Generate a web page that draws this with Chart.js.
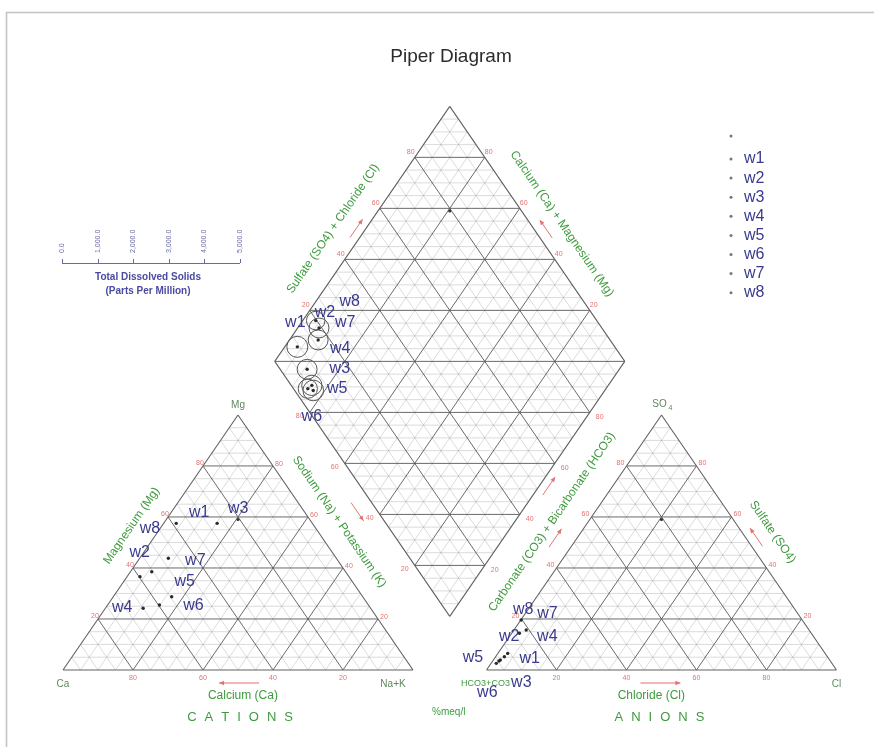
<!DOCTYPE html>
<html>
<head>
<meta charset="utf-8">
<title>Piper Diagram</title>
<script src="https://cdn.jsdelivr.net/npm/chart.js@4.4.1/dist/chart.umd.min.js"></script>
<style>
  html, body { margin: 0; padding: 0; background: #ffffff; }
  #piper { display: block; }
</style>
</head>
<body>
<canvas id="piper" width="874" height="747"></canvas>
<script>
// ---- Sample chemistry, % meq/l ----
const wells = ['w1', 'w2', 'w3', 'w4', 'w5', 'w6', 'w7', 'w8'];
const calcium         = [38.9, 55.4, 27.2, 65.0, 54.6, 59.7, 48.0, 59.7];
const magnesium       = [57.5, 38.5, 57.5, 24.2, 28.7, 25.5, 43.8, 36.6];
const sodiumPotassium = [ 3.6,  6.1, 15.3, 10.8, 16.7, 14.8,  8.2,  3.7];
const bicarbonate     = [90.7, 80.8, 94.1, 92.3, 94.7, 95.9, 83.4, 80.3];
const sulfate         = [ 6.5, 15.7,  3.9,  5.2,  3.5,  2.6, 14.4, 19.6];
const chloride        = [ 2.8,  3.5,  2.0,  2.5,  1.8,  1.5,  2.2,  0.1];
const totalDissolvedSolids = [590, 560, 570, 560, 580, 540, 560, 520];

// Unlabelled reference sample (first legend entry)
const referenceCations = [20.5, 59.0, 20.5];   // Ca, Mg, Na+K
const referenceAnions  = [20.5, 59.0, 20.5];   // HCO3+CO3, SO4, Cl

// Tick values
const percentTicks = [20, 40, 60, 80];
const tdsTicks = [0, 1000, 2000, 3000, 4000, 5000];

// ---- Label placement (pixel offsets from each plotted point) ----
const cationLabelOffset  = [[23,-11],[-12,-19],[21,-15],[-21,-1],[13,-15],[34,1],[27,2],[10,-48]];
const diamondLabelOffset = [[-2,-24],[6,-15],[28,-17],[33,-21],[24,-2],[4,28],[27,-17],[34,-19]];
const anionLabelOffset   = [[22,5],[-17,7],[21,23],[43,-20],[-26,-3],[-9,29],[28,-20],[2,-10]];

// ---- Piper geometry (triangle side = 100 units) ----
const H = Math.sqrt(3) / 2;
const GAP = 21;
const ANION_X0 = 100 + GAP;
const DB = { x: 100 + GAP / 2, y: GAP * H };   // lowest vertex of the diamond

function cationXY(ca, mg, nak) {
  const t = ca + mg + nak, m = 100 * mg / t, n = 100 * nak / t;
  return { x: n + m / 2, y: m * H };
}
function anionXY(hco3, so4, cl) {
  const t = hco3 + so4 + cl, s = 100 * so4 / t, c = 100 * cl / t;
  return { x: ANION_X0 + c + s / 2, y: s * H };
}
// u = Ca+Mg share, s = SO4+Cl share
function diamondUV(u, s) { return { x: DB.x - u / 2 + s / 2, y: DB.y + (u + s) * H }; }
function diamondXY(ca, mg, nak, hco3, so4, cl) {
  return diamondUV(100 * (ca + mg) / (ca + mg + nak), 100 * (so4 + cl) / (hco3 + so4 + cl));
}

const V = {
  ca: { x: 0, y: 0 }, nak: { x: 100, y: 0 }, mg: { x: 50, y: 100 * H },
  hco3: { x: ANION_X0, y: 0 }, cl: { x: ANION_X0 + 100, y: 0 }, so4: { x: ANION_X0 + 50, y: 100 * H },
  dL: diamondUV(100, 0), dT: diamondUV(100, 100), dR: diamondUV(0, 100), dB: diamondUV(0, 0)
};

// ---- Grid segments ----
function triangleSegments(x0, step, keep) {
  const segs = [];
  for (let k = step; k < 100; k += step) {
    if (!keep(k)) continue;
    segs.push([{ x: x0 + k / 2, y: k * H }, { x: x0 + 100 - k / 2, y: k * H }]);
    segs.push([{ x: x0 + k, y: 0 }, { x: x0 + k + (100 - k) / 2, y: (100 - k) * H }]);
    segs.push([{ x: x0 + 100 - k, y: 0 }, { x: x0 + (100 - k) / 2, y: (100 - k) * H }]);
  }
  return segs;
}
function diamondSegments(step, keep) {
  const segs = [];
  for (let k = step; k < 100; k += step) {
    if (!keep(k)) continue;
    segs.push([diamondUV(0, k), diamondUV(100, k)]);
    segs.push([diamondUV(k, 0), diamondUV(k, 100)]);
    segs.push([diamondUV(100, k), diamondUV(k, 100)]);
    segs.push([diamondUV(0, k), diamondUV(k, 0)]);
  }
  return segs;
}
const isMajor = k => k % 20 === 0;
const minorSegs = [
  ...triangleSegments(0, 5, k => !isMajor(k)),
  ...triangleSegments(ANION_X0, 5, k => !isMajor(k)),
  ...diamondSegments(5, k => !isMajor(k))
];
const majorSegs = [
  ...triangleSegments(0, 5, isMajor),
  ...triangleSegments(ANION_X0, 5, isMajor),
  ...diamondSegments(5, isMajor),
  [V.dL, V.dR]
];
const outlineSegs = [
  [V.ca, V.nak], [V.nak, V.mg], [V.mg, V.ca],
  [V.hco3, V.cl], [V.cl, V.so4], [V.so4, V.hco3],
  [V.dB, V.dR], [V.dR, V.dT], [V.dT, V.dL], [V.dL, V.dB]
];
function toPath(segs) {
  const out = [];
  segs.forEach(s => out.push(s[0], s[1], { x: null, y: null }));
  return out;
}
function lineSet(segs, color, width, order) {
  return {
    label: '', data: toPath(segs), showLine: true, borderColor: color, borderWidth: width,
    pointRadius: 0, pointHoverRadius: 0, fill: false, spanGaps: false, order: order
  };
}

// ---- TDS legend scale (circle diameter follows this axis) ----
const TDS_AXIS = { x0: 62, x1: 240, y: 263 };
const tdsRadius = v => v / tdsTicks[tdsTicks.length - 1] * (TDS_AXIS.x1 - TDS_AXIS.x0) / 2;

const datasets = [
  lineSet(minorSegs, 'rgba(115,115,115,0.36)', 0.7, 20),
  lineSet(majorSegs, 'rgba(80,80,80,0.85)', 1, 19),
  lineSet(outlineSegs, '#626262', 1.1, 18),
  {
    label: '', legendEntry: true, order: 2,
    data: [
      cationXY(referenceCations[0], referenceCations[1], referenceCations[2]),
      diamondXY(referenceCations[0], referenceCations[1], referenceCations[2],
                referenceAnions[0], referenceAnions[1], referenceAnions[2]),
      anionXY(referenceAnions[0], referenceAnions[1], referenceAnions[2])
    ],
    pointRadius: 1.6, backgroundColor: '#333', borderColor: '#333', borderWidth: 0
  },
  {
    label: 'TDS', order: 3,
    data: wells.map((w, i) => diamondXY(calcium[i], magnesium[i], sodiumPotassium[i],
                                         bicarbonate[i], sulfate[i], chloride[i])),
    pointRadius: totalDissolvedSolids.map(tdsRadius),
    backgroundColor: 'rgba(0,0,0,0)', borderColor: '#555', borderWidth: 1
  }
];
wells.forEach((w, i) => {
  datasets.push({
    label: w, legendEntry: true, wellIndex: i, order: 1,
    data: [
      cationXY(calcium[i], magnesium[i], sodiumPotassium[i]),
      diamondXY(calcium[i], magnesium[i], sodiumPotassium[i], bicarbonate[i], sulfate[i], chloride[i]),
      anionXY(bicarbonate[i], sulfate[i], chloride[i])
    ],
    pointRadius: 1.7, backgroundColor: '#2a2a2a', borderColor: '#2a2a2a', borderWidth: 0
  });
});

// ---- Drawing helpers ----
const FONT = '"Liberation Sans", Arial, sans-serif';
const GREEN = '#3f9a3f';
const NAVY = '#3a3a8e';
const PINK = '#e27272';

function text(ctx, str, x, y, font, color, align, angle) {
  ctx.save();
  ctx.translate(x, y);
  if (angle) ctx.rotate(angle);
  ctx.font = font;
  ctx.fillStyle = color;
  ctx.textAlign = align || 'center';
  ctx.textBaseline = 'middle';
  ctx.fillText(str, 0, 0);
  ctx.restore();
}
function spaced(ctx, str, cx, cy, font, color, gap) {
  ctx.save();
  ctx.font = font;
  ctx.fillStyle = color;
  ctx.textBaseline = 'middle';
  ctx.textAlign = 'left';
  const widths = [...str].map(ch => ctx.measureText(ch).width);
  const total = widths.reduce((a, b) => a + b, 0) + gap * (str.length - 1);
  let x = cx - total / 2;
  [...str].forEach((ch, i) => { ctx.fillText(ch, x, cy); x += widths[i] + gap; });
  ctx.restore();
}

const piperDecor = {
  id: 'piperDecor',
  afterDatasetsDraw(chart) {
    const ctx = chart.ctx;
    const xs = chart.scales.x, ys = chart.scales.y;
    const P = p => ({ x: xs.getPixelForValue(p.x), y: ys.getPixelForValue(p.y) });

    // point on edge a->b at fraction t, shifted d px to the left-hand side of travel
    function edge(a, b, t, d) {
      const A = P(a), B = P(b);
      const dx = B.x - A.x, dy = B.y - A.y, len = Math.hypot(dx, dy);
      const ux = dx / len, uy = dy / len;
      return { x: A.x + dx * t + uy * d, y: A.y + dy * t - ux * d, ux, uy, ang: Math.atan2(dy, dx) };
    }
    function arrow(a, b, t, d, len, dir) {
      const e = edge(a, b, t, d);
      const hx = e.ux * dir, hy = e.uy * dir;
      const x1 = e.x - hx * len / 2, y1 = e.y - hy * len / 2;
      const x2 = e.x + hx * len / 2, y2 = e.y + hy * len / 2;
      ctx.save();
      ctx.strokeStyle = PINK; ctx.fillStyle = PINK; ctx.lineWidth = 1;
      ctx.beginPath(); ctx.moveTo(x1, y1); ctx.lineTo(x2, y2); ctx.stroke();
      ctx.beginPath();
      ctx.moveTo(x2, y2);
      ctx.lineTo(x2 - hx * 5 - hy * 2.2, y2 - hy * 5 + hx * 2.2);
      ctx.lineTo(x2 - hx * 5 + hy * 2.2, y2 - hy * 5 - hx * 2.2);
      ctx.closePath(); ctx.fill();
      ctx.restore();
    }

    // frame
    ctx.save();
    ctx.strokeStyle = '#c4c4c4'; ctx.lineWidth = 1.6;
    ctx.strokeRect(6.5, 12.5, 900, 800);
    ctx.restore();

    // title
    text(ctx, 'Piper Diagram', 451, 57, '19px ' + FONT, '#2b2b2b');

    // percent tick labels
    const tickFont = '7px ' + FONT;
    percentTicks.forEach(v => {
      const items = [
        [{ x: v / 2, y: v * H }, -3, -3],
        [{ x: 100 - v / 2, y: v * H }, 6, -2],
        [{ x: 100 - v, y: 0 }, 0, 8],
        [{ x: ANION_X0 + v / 2, y: v * H }, -6, -3],
        [{ x: ANION_X0 + 100 - v / 2, y: v * H }, 6, -3],
        [{ x: ANION_X0 + v, y: 0 }, 0, 8],
        [diamondUV(100, v), -4, -5],
        [diamondUV(v, 100), 4, -5],
        [diamondUV(0, v), 10, 5],
        [diamondUV(v, 0), -10, 4]
      ];
      items.forEach(([pt, dx, dy]) => {
        const p = P(pt);
        text(ctx, String(v), p.x + dx, p.y + dy, tickFont, PINK);
      });
    });

    // direction arrows
    arrow(V.ca, V.nak, 0.503, -13, 40, -1);
    arrow(V.hco3, V.cl, 0.497, -13, 40, 1);
    arrow(V.dL, V.dB, 0.552, -17, 22, 1);
    arrow(V.cl, V.so4, 0.501, -9, 22, 1);
    arrow(V.dB, V.dR, 0.529, -8, 22, 1);
    arrow(V.hco3, V.so4, 0.478, 18, 22, 1);
    arrow(V.dL, V.dT, 0.504, 8, 22, 1);
    arrow(V.dT, V.dR, 0.503, 10, 22, -1);

    // axis titles along edges
    const tf = '12px ' + FONT;
    let e;
    e = edge(V.ca, V.mg, 0.51, 25);       text(ctx, 'Magnesium (Mg)', e.x, e.y, tf, GREEN, 'center', e.ang);
    e = edge(V.nak, V.mg, 0.53, -23);     text(ctx, 'Sodium (Na) + Potassium (K)', e.x, e.y, tf, GREEN, 'center', e.ang + Math.PI);
    e = edge(V.ca, V.nak, 0.514, -25.5);  text(ctx, 'Calcium (Ca)', e.x, e.y, tf, GREEN);
    e = edge(V.ca, V.nak, 0.506, -47);    spaced(ctx, 'CATIONS', e.x, e.y, '13px ' + FONT, GREEN, 8);
    e = edge(V.hco3, V.cl, 0.471, -25.5); text(ctx, 'Chloride (Cl)', e.x, e.y, tf, GREEN);
    e = edge(V.hco3, V.cl, 0.494, -47);   spaced(ctx, 'ANIONS', e.x, e.y, '13px ' + FONT, GREEN, 8);
    e = edge(V.cl, V.so4, 0.485, -25.3);  text(ctx, 'Sulfate (SO4)', e.x, e.y, tf, GREEN, 'center', e.ang + Math.PI);
    e = edge(V.hco3, V.so4, 0.514, 29.7); text(ctx, 'Carbonate (CO3) + Bicarbonate (HCO3)', e.x, e.y, tf, GREEN, 'center', e.ang);
    e = edge(V.dL, V.dT, 0.46, 27);       text(ctx, 'Sulfate (SO4) + Chloride (Cl)', e.x, e.y, tf, GREEN, 'center', e.ang);
    e = edge(V.dT, V.dR, 0.518, 26);      text(ctx, 'Calcium (Ca) + Magnesium (Mg)', e.x, e.y, tf, GREEN, 'center', e.ang);
    const bottom = P(V.dB);
    text(ctx, '%meq/l', bottom.x - 1, bottom.y + 96, '10px ' + FONT, GREEN);

    // corner labels
    const cf = '10px ' + FONT, cc = '#5d875d';
    let c;
    c = P(V.mg);   text(ctx, 'Mg', c.x, c.y - 10, cf, cc);
    c = P(V.ca);   text(ctx, 'Ca', c.x, c.y + 14, cf, cc);
    c = P(V.nak);  text(ctx, 'Na+K', c.x - 20, c.y + 14, cf, cc);
    c = P(V.cl);   text(ctx, 'Cl', c.x, c.y + 14, cf, cc);
    c = P(V.hco3); text(ctx, 'HCO3+CO3', c.x - 1, c.y + 14, '9px ' + FONT, GREEN);
    c = P(V.so4);
    text(ctx, 'SO', c.x - 2, c.y - 11, cf, cc, 'center');
    text(ctx, '4', c.x + 7, c.y - 7, '7px ' + FONT, cc, 'left');

    // TDS legend
    ctx.save();
    ctx.strokeStyle = '#6a6aa8'; ctx.lineWidth = 1;
    ctx.beginPath();
    ctx.moveTo(TDS_AXIS.x0, TDS_AXIS.y + 0.5); ctx.lineTo(TDS_AXIS.x1, TDS_AXIS.y + 0.5);
    tdsTicks.forEach(v => {
      const x = TDS_AXIS.x0 + v / tdsTicks[tdsTicks.length - 1] * (TDS_AXIS.x1 - TDS_AXIS.x0);
      ctx.moveTo(Math.round(x) + 0.5, TDS_AXIS.y); ctx.lineTo(Math.round(x) + 0.5, TDS_AXIS.y - 4);
    });
    ctx.stroke();
    ctx.restore();
    tdsTicks.forEach(v => {
      const x = TDS_AXIS.x0 + v / tdsTicks[tdsTicks.length - 1] * (TDS_AXIS.x1 - TDS_AXIS.x0);
      const lbl = v.toLocaleString('en-US', { minimumFractionDigits: 1, maximumFractionDigits: 1 });
      text(ctx, lbl, x, TDS_AXIS.y - 10, '7px ' + FONT, '#6a6aa8', 'left', -Math.PI / 2);
    });
    const tdsMid = (TDS_AXIS.x0 + TDS_AXIS.x1) / 2 - 3;
    text(ctx, 'Total Dissolved Solids', tdsMid, TDS_AXIS.y + 14, 'bold 10px ' + FONT, '#4a4aa2');
    text(ctx, '(Parts Per Million)', tdsMid, TDS_AXIS.y + 28, 'bold 10px ' + FONT, '#4a4aa2');

    // sample labels in the three fields
    const lf = '16px ' + FONT;
    chart.data.datasets.forEach((ds, di) => {
      if (ds.wellIndex === undefined) return;
      const i = ds.wellIndex;
      const pts = chart.getDatasetMeta(di).data;
      [cationLabelOffset, diamondLabelOffset, anionLabelOffset].forEach((offs, j) => {
        const el = pts[j];
        text(ctx, ds.label, el.x + offs[i][0], el.y + offs[i][1], lf, NAVY);
      });
    });

    // legend: blank reference row on top, then one row per well
    const entries = chart.data.datasets.filter(ds => ds.legendEntry);
    entries.forEach((ds, k) => {
      const y = k === 0 ? 136 : 159 + (k - 1) * 19.1;
      ctx.save();
      ctx.fillStyle = '#777';
      ctx.beginPath(); ctx.arc(731, y, 1.5, 0, Math.PI * 2); ctx.fill();
      ctx.restore();
      if (ds.label) text(ctx, ds.label, 744, y, lf, NAVY, 'left');
    });
  }
};

Chart.defaults.font.family = FONT;

new Chart(document.getElementById('piper').getContext('2d'), {
  type: 'scatter',
  data: { datasets },
  options: {
    responsive: false,
    animation: false,
    events: [],
    layout: { padding: 0, autoPadding: false },
    scales: {
      x: { type: 'linear', min: -18, max: 231.714, display: false },
      y: { type: 'linear', min: -26.15, max: 227.5, display: false }
    },
    plugins: {
      legend: { display: false },
      tooltip: { enabled: false },
      title: { display: false }
    }
  },
  plugins: [piperDecor]
});
</script>
</body>
</html>
